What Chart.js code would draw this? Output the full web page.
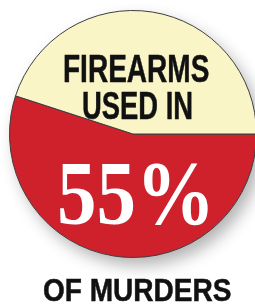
<!DOCTYPE html>
<html>
<head>
<meta charset="utf-8">
<script src="https://cdn.jsdelivr.net/npm/chart.js@4/dist/chart.umd.min.js"></script>
<style>
  html, body { margin: 0; padding: 0; background: #fff; }
  body { width: 255px; height: 305px; overflow: hidden; position: relative; }
  .chart-box { position: absolute; left: 0; top: 0; width: 264px; height: 305px; }
  .label {
    position: absolute; left: 0; white-space: nowrap; line-height: 1;
    transform-origin: 0 0;
  }
  .sans {
    font-family: "Liberation Sans", Arial, sans-serif;
    font-weight: bold; color: #111;
    -webkit-text-stroke: 0.5px #111;
  }
  .big {
    font-family: "Liberation Serif", "Times New Roman", serif;
    font-weight: bold; color: #fff;
  }
</style>
</head>
<body>
<div class="chart-box"><canvas id="pie"></canvas></div>

<div class="label sans" id="l1" style="font-size:38px; top:50px;" data-cx="136" data-w="146">FIREARMS</div>
<div class="label sans" id="l2" style="font-size:38px; top:87px;" data-cx="137" data-w="111">USED IN</div>
<div class="label big"  id="l3" style="font-size:90px; top:149px;" data-cx="136" data-w="158">55%</div>
<div class="label sans" id="l4" style="font-size:31px; top:275px;" data-cx="137" data-w="188">OF MURDERS</div>

<script>
'use strict';

/* ---- data ---- */
const categories = ['Firearms', 'Other weapons'];
const shares     = [55, 45];

/* ---- style ---- */
const sliceColors = ['#CE212C', '#FAF5C6'];
const edgeColor   = '#3d3d3d';

/* soft drop shadow under the whole disc */
const pieShadow = {
  id: 'pieShadow',
  beforeDatasetsDraw(chart) {
    const arc = chart.getDatasetMeta(0).data[0];
    if (!arc) return;
    const { x, y, outerRadius } = arc.getProps(['x', 'y', 'outerRadius'], true);
    const ctx = chart.ctx;
    ctx.save();
    ctx.shadowColor = 'rgba(0,0,0,0.3)';
    ctx.shadowBlur = 16;
    ctx.shadowOffsetX = 6;
    ctx.shadowOffsetY = 8;
    ctx.fillStyle = '#fff';
    ctx.beginPath();
    ctx.arc(x, y, outerRadius, 0, Math.PI * 2);
    ctx.fill();
    ctx.restore();
  }
};

new Chart(document.getElementById('pie'), {
  type: 'pie',
  data: {
    labels: categories,
    datasets: [{
      data: shares,
      backgroundColor: sliceColors,
      borderColor: edgeColor,
      borderWidth: 1
    }]
  },
  options: {
    responsive: true,
    maintainAspectRatio: false,
    animation: false,
    rotation: 90,
    layout: { padding: { left: 9, right: 7, top: 10, bottom: 47 } },
    plugins: {
      legend: { display: false },
      tooltip: { enabled: false }
    }
  },
  plugins: [pieShadow]
});

/* squeeze each label to the width it has in the print */
document.querySelectorAll('.label').forEach(el => {
  const w  = el.offsetWidth;
  const k  = parseFloat(el.dataset.w) / w;
  const cx = parseFloat(el.dataset.cx);
  el.style.left = (cx - w * k / 2) + 'px';
  el.style.transform = 'scaleX(' + k + ')';
});
</script>
</body>
</html>
